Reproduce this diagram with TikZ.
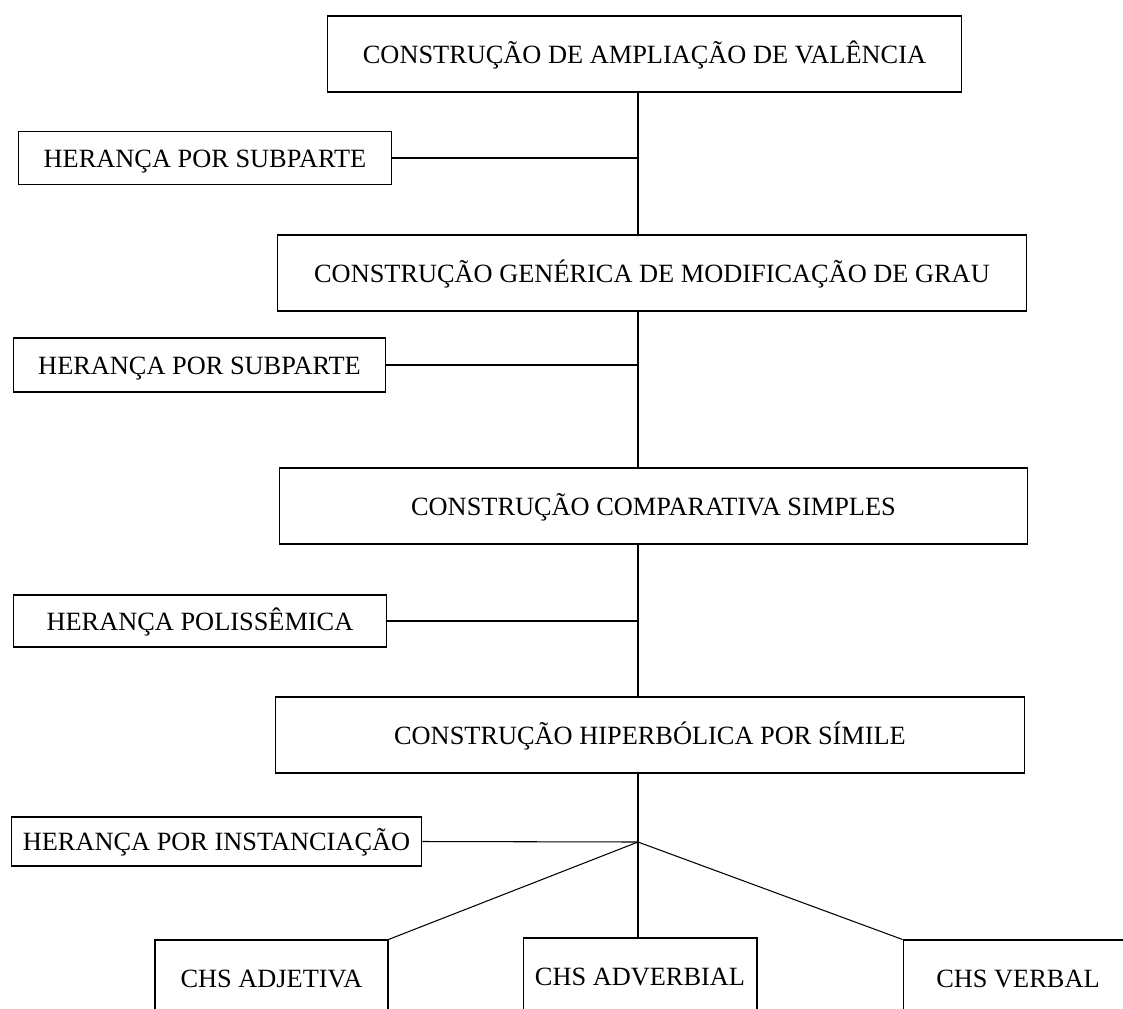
\documentclass[tikz,border=0pt]{standalone}
\usepackage{fontspec}
\setmainfont{Liberation Serif}
\begin{document}
\begin{tikzpicture}[x=0.02cm, y=-0.02cm,
  cxbox/.style={draw, line width=0.6pt, minimum height=1.52cm, inner sep=0pt, text height=10.6pt, text depth=0pt, font=\fontsize{15}{18}\selectfont},
  hrbox/.style={draw, line width=0.6pt, inner sep=0pt, text height=10.6pt, text depth=0pt, font=\fontsize{15}{18}\selectfont},
  link/.style={line width=0.6pt}]
\clip (0,0) rectangle (1123,1008);
\coordinate (trunk) at (638,0);

% Constructions
\node[cxbox, minimum width=12.7cm] (amp) at (644.5,54) {CONSTRUÇÃO DE AMPLIAÇÃO DE VALÊNCIA};
\node[cxbox, minimum width=15cm] (gen) at (652,273) {CONSTRUÇÃO GENÉRICA DE MODIFICAÇÃO DE GRAU};
\node[cxbox, minimum width=14.98cm] (comp) at (653.5,506) {CONSTRUÇÃO COMPARATIVA SIMPLES};
\node[cxbox, minimum width=15cm] (hip) at (650,735) {CONSTRUÇÃO HIPERBÓLICA POR SÍMILE};

% Inheritance links
\node[hrbox, minimum width=7.48cm, minimum height=1.06cm] (sub1) at (205,158) {HERANÇA POR SUBPARTE};
\node[hrbox, minimum width=7.46cm, minimum height=1.08cm] (sub2) at (199.5,365) {HERANÇA POR SUBPARTE};
\node[hrbox, minimum width=7.48cm, minimum height=1.04cm] (poli) at (200,621) {HERANÇA POLISSÊMICA};
\node[hrbox, minimum width=8.22cm, minimum height=0.98cm] (inst) at (216.5,841.5) {HERANÇA POR INSTANCIAÇÃO};

% Instances
\node[cxbox, minimum width=4.66cm] (adj) at (271.5,978) {CHS ADJETIVA};
\node[cxbox, minimum width=4.68cm] (adv) at (640,976) {CHS ADVERBIAL};
\node[cxbox, minimum width=4.6cm] (verb) at (1018,978) {CHS VERBAL};

% Trunk
\coordinate (jn) at (638,842);
\draw[link] (amp.south -| trunk) -- (gen.north -| trunk);
\draw[link] (gen.south -| trunk) -- (comp.north -| trunk);
\draw[link] (comp.south -| trunk) -- (hip.north -| trunk);
\draw[link] (hip.south -| trunk) -- (jn);

% Side links
\draw[link] (sub1.east) -- (sub1.east -| trunk);
\draw[link] (sub2.east) -- (sub2.east -| trunk);
\draw[link] (poli.east) -- (poli.east -| trunk);
\draw[link] (inst.east) -- (jn);

% Branches
\draw[link] (jn) -- (adj.north east);
\draw[link] (jn) -- (jn |- adv.north);
\draw[link] (jn) -- (verb.north west);
\end{tikzpicture}
\end{document}
